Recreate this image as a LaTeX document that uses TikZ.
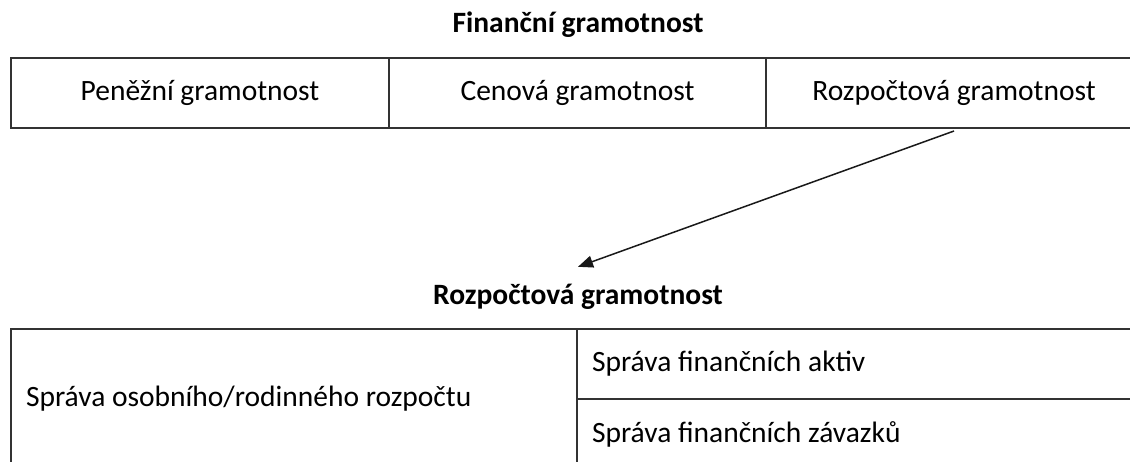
\documentclass[tikz,border=0pt]{standalone}
\usepackage{fontspec}
\setmainfont{Carlito}
\usetikzlibrary{arrows.meta,positioning}

\begin{document}
\begin{tikzpicture}[x=1pt,y=-1pt,>={Triangle[length=15pt,width=12pt]},
  bunka/.style={draw=black!80, line width=2pt, outer sep=0pt, inner xsep=15pt,
    minimum height=70pt, font=\fontsize{29.5}{35}\selectfont},
  nadpis/.style={font=\fontsize{29.5}{35}\selectfont\bfseries, inner sep=0pt,
    text height=20pt, text depth=6pt}]
\useasboundingbox (0,0) rectangle (1130,461);
% horni tabulka
\node (titul1) at (578,25) [nadpis] {Finanční gramotnost};
\node (penezni) at (11,58) [bunka, anchor=north west, minimum width=378pt] {Peněžní gramotnost};
\node (cenova) [bunka, right=0pt of penezni, minimum width=377pt] {Cenová gramotnost};
\node (rozpoctova) [bunka, right=0pt of cenova, minimum width=376pt] {Rozpočtová gramotnost};
% dolni tabulka
\node (titul2) at (578,297) [nadpis] {Rozpočtová gramotnost};
\node (osobni) at (11,329) [bunka, anchor=north west, minimum width=566pt, minimum height=140pt,
  text width=536pt, align=flush left] {Správa osobního/rodinného rozpočtu};
\node (aktiva) at (osobni.north east) [bunka, anchor=north west, minimum width=600pt,
  text width=570pt, align=flush left] {Správa finančních aktiv};
\node (zavazky) [bunka, below=0pt of aktiva, minimum width=600pt,
  text width=570pt, align=flush left] {Správa finančních závazků};
\coordinate (hrot) at ([yshift=17pt]titul2.north);
\draw [->, line width=1.5pt, black!90] ([yshift=-3pt]rozpoctova.south) -- (hrot);
\end{tikzpicture}
\end{document}
